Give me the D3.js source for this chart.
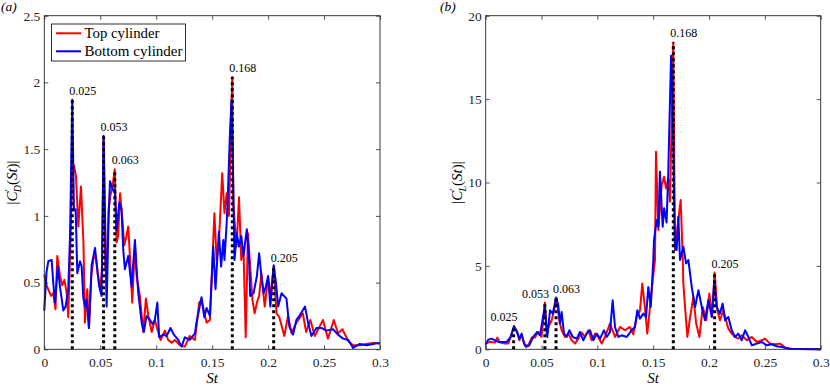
<!DOCTYPE html>
<html><head><meta charset="utf-8">
<script src="https://cdn.jsdelivr.net/npm/d3@7"></script>
<style>
html,body{margin:0;padding:0;background:#fff;}
svg{display:block;}
svg text{font-family:"Liberation Serif","DejaVu Serif","Times New Roman",serif !important;}
</style></head>
<body>
<svg id="chart" width="830" height="387"></svg>
<script>
// ---------------- data ----------------
const stTicks = [0, 0.05, 0.1, 0.15, 0.2, 0.25, 0.3];
const stTickLabels = ["0", "0.05", "0.1", "0.15", "0.2", "0.25", "0.3"];
const yTicksA = [0, 0.5, 1, 1.5, 2, 2.5];
const yTickLabelsA = ["0", "0.5", "1", "1.5", "2", "2.5"];
const yTicksB = [0, 5, 10, 15, 20];
const yTickLabelsB = ["0", "5", "10", "15", "20"];
const seriesNames = ["Top cylinder", "Bottom cylinder"];
const seriesColors = ["#ff0000", "#0000ff"];
const peakSt = [0.025, 0.053, 0.063, 0.168, 0.205];
const peakLabels = ["0.025", "0.053", "0.063", "0.168", "0.205"];
const peakA = [1.87, 1.60, 1.35, 2.04, 0.62];
const peakB = [1.4, 2.8, 3.1, 18.4, 4.6];
const peakAnchorA = ["start", "start", "start", "start", "start"];
const peakAnchorB = ["end", "end", "start", "start", "start"];

// panel (a): |C'_D(St)|  [St, value]
const topA = [[0,0.56],[0.002,0.48],[0.004,0.44],[0.006,0.40],[0.008,0.42],[0.010,0.30],[0.0116,0.70],[0.014,0.55],[0.016,0.48],[0.018,0.52],[0.020,0.42],[0.0214,0.24],[0.0235,0.85],[0.025,1.30],[0.0265,1.38],[0.0283,1.30],[0.0304,0.92],[0.0328,1.22],[0.035,0.80],[0.0363,0.20],[0.0384,0.45],[0.0399,0.16],[0.042,0.55],[0.044,0.68],[0.046,0.70],[0.048,0.55],[0.050,0.45],[0.0515,0.60],[0.053,1.58],[0.0545,0.60],[0.056,0.65],[0.0575,1.05],[0.059,1.15],[0.061,1.22],[0.063,1.35],[0.0646,0.80],[0.066,0.85],[0.0677,1.17],[0.0695,1.0],[0.0715,0.78],[0.0735,0.85],[0.075,0.92],[0.0765,0.70],[0.0786,0.35],[0.081,0.78],[0.0825,0.55],[0.0854,0.40],[0.0884,0.13],[0.0908,0.38],[0.093,0.25],[0.096,0.13],[0.0988,0.22],[0.1018,0.13],[0.1039,0.07],[0.1078,0.14],[0.1107,0.07],[0.1138,0.05],[0.1167,0.07],[0.1212,0.03],[0.1256,0.02],[0.130,0.10],[0.1346,0.07],[0.1384,0.35],[0.1405,0.37],[0.145,0.20],[0.148,0.22],[0.152,1.02],[0.154,0.67],[0.156,0.80],[0.159,1.32],[0.161,1.02],[0.163,1.17],[0.165,1.0],[0.168,2.04],[0.169,1.07],[0.1718,0.77],[0.174,1.14],[0.176,0.67],[0.178,0.75],[0.180,0.09],[0.182,0.87],[0.184,0.62],[0.186,0.37],[0.188,0.27],[0.190,0.35],[0.192,0.40],[0.194,0.57],[0.197,0.32],[0.200,0.54],[0.202,0.40],[0.205,0.62],[0.2075,0.27],[0.210,0.24],[0.2145,0.10],[0.2178,0.25],[0.2209,0.12],[0.2253,0.20],[0.231,0.27],[0.234,0.13],[0.2378,0.22],[0.2417,0.10],[0.246,0.17],[0.249,0.22],[0.2535,0.08],[0.2587,0.22],[0.2625,0.12],[0.2664,0.15],[0.2717,0.06],[0.276,0.03],[0.282,0.03],[0.288,0.04],[0.295,0.05],[0.30,0.04]];
const bottomA = [[0,0.29],[0.002,0.58],[0.0036,0.66],[0.0066,0.67],[0.008,0.50],[0.0096,0.35],[0.012,0.62],[0.014,0.47],[0.017,0.29],[0.019,0.32],[0.0214,0.45],[0.023,0.85],[0.025,1.87],[0.0265,1.04],[0.028,1.05],[0.0295,0.57],[0.0319,0.66],[0.0334,0.62],[0.0348,0.39],[0.0363,0.32],[0.0379,0.37],[0.0399,0.16],[0.0423,0.63],[0.0453,0.76],[0.0473,0.60],[0.0491,0.47],[0.0512,0.40],[0.053,1.60],[0.0557,0.32],[0.0575,1.0],[0.0587,1.26],[0.0616,1.19],[0.063,1.20],[0.0646,0.89],[0.067,1.10],[0.069,1.05],[0.0705,0.75],[0.072,0.60],[0.075,0.70],[0.078,0.47],[0.081,0.82],[0.0825,0.60],[0.084,0.42],[0.087,0.20],[0.089,0.13],[0.0914,0.25],[0.0944,0.22],[0.0968,0.19],[0.0988,0.22],[0.101,0.35],[0.1027,0.09],[0.1063,0.11],[0.1093,0.10],[0.1128,0.16],[0.1158,0.11],[0.1197,0.07],[0.1227,0.02],[0.1256,0.09],[0.130,0.07],[0.1346,0.12],[0.136,0.20],[0.1405,0.39],[0.143,0.24],[0.145,0.31],[0.148,0.25],[0.151,0.77],[0.153,0.45],[0.156,0.88],[0.158,0.62],[0.160,0.82],[0.161,0.67],[0.163,0.95],[0.164,1.15],[0.166,1.64],[0.1673,1.87],[0.169,1.15],[0.170,0.67],[0.172,0.87],[0.174,0.77],[0.176,0.85],[0.178,0.70],[0.181,0.90],[0.183,0.67],[0.184,0.40],[0.187,0.42],[0.190,0.55],[0.192,0.72],[0.194,0.55],[0.196,0.42],[0.198,0.47],[0.200,0.55],[0.202,0.32],[0.205,0.63],[0.207,0.50],[0.209,0.32],[0.212,0.42],[0.2164,0.38],[0.219,0.17],[0.2223,0.11],[0.2253,0.22],[0.228,0.25],[0.233,0.32],[0.2357,0.20],[0.2387,0.10],[0.2432,0.16],[0.2477,0.16],[0.252,0.14],[0.258,0.15],[0.2625,0.11],[0.267,0.08],[0.2717,0.07],[0.276,0.01],[0.282,0.04],[0.288,0.03],[0.294,0.04],[0.30,0.05]];

// panel (b): |C'_L(St)|  [St, value]
const topB = [[0,0.34],[0.0038,0.45],[0.0083,0.40],[0.0104,0.70],[0.0128,0.40],[0.0173,0.35],[0.0203,0.35],[0.0233,0.94],[0.0253,1.34],[0.0278,1.14],[0.0301,0.54],[0.0322,0.84],[0.0352,0.24],[0.0382,0.24],[0.0412,0.70],[0.0441,0.70],[0.047,1.04],[0.050,0.74],[0.053,2.8],[0.0546,0.94],[0.0561,1.34],[0.0591,1.74],[0.0612,2.34],[0.0636,3.04],[0.0659,1.74],[0.068,1.14],[0.071,0.74],[0.074,0.94],[0.077,0.54],[0.080,0.34],[0.0829,0.64],[0.086,1.0],[0.0889,0.74],[0.0919,1.14],[0.0949,0.54],[0.0979,0.94],[0.1008,0.74],[0.1039,0.34],[0.1068,0.74],[0.1113,1.54],[0.1158,0.74],[0.1203,1.34],[0.1247,1.14],[0.1292,1.34],[0.1322,0.90],[0.1352,1.94],[0.1382,2.34],[0.1402,3.94],[0.1426,2.5],[0.1447,0.94],[0.1471,2.5],[0.1495,4.1],[0.1516,5.35],[0.1525,11.85],[0.1546,7.15],[0.1576,9.85],[0.1597,10.35],[0.1615,9.65],[0.1635,10.2],[0.165,8.85],[0.168,18.4],[0.1695,5.95],[0.1725,7.75],[0.1746,8.95],[0.1762,6.0],[0.177,3.94],[0.1785,2.54],[0.1806,0.74],[0.1831,1.94],[0.186,3.14],[0.1885,1.54],[0.1914,0.74],[0.1944,2.54],[0.1975,1.74],[0.2003,3.34],[0.2025,1.94],[0.205,4.6],[0.2074,2.34],[0.2098,1.74],[0.2128,2.34],[0.2152,1.74],[0.2173,1.24],[0.2203,0.94],[0.2233,0.74],[0.2262,0.64],[0.2293,0.84],[0.2338,0.54],[0.2383,0.74],[0.2427,0.44],[0.2472,0.54],[0.2501,0.64],[0.2546,0.34],[0.2591,0.30],[0.2636,0.34],[0.2681,0.10],[0.274,0.04],[0.2815,0.02],[0.2904,0.02],[0.30,0.0]];
const bottomB = [[0,0.28],[0.0023,0.58],[0.0053,0.64],[0.0083,0.54],[0.0113,0.44],[0.0143,0.44],[0.0188,0.44],[0.0224,0.74],[0.0253,1.40],[0.0283,0.98],[0.0301,0.64],[0.0322,0.94],[0.0343,0.34],[0.0361,0.14],[0.039,0.24],[0.0426,0.74],[0.0462,1.04],[0.0486,0.84],[0.0516,2.04],[0.053,2.5],[0.0552,0.74],[0.0576,2.34],[0.060,2.14],[0.063,3.1],[0.065,2.64],[0.0665,1.54],[0.068,2.24],[0.0701,0.94],[0.0725,0.74],[0.0749,1.14],[0.0779,0.74],[0.0815,0.64],[0.0844,1.04],[0.0874,0.54],[0.0904,0.94],[0.0934,1.14],[0.0964,0.54],[0.0994,0.94],[0.1024,0.64],[0.1059,1.14],[0.1084,0.74],[0.1113,1.04],[0.1137,2.94],[0.1158,1.34],[0.1188,0.74],[0.1218,0.84],[0.1263,0.74],[0.1307,1.14],[0.1337,1.34],[0.1358,2.34],[0.1382,1.84],[0.1412,2.14],[0.1436,1.94],[0.1456,3.74],[0.1478,2.54],[0.1501,5.35],[0.1507,6.55],[0.1531,7.75],[0.1546,7.35],[0.156,10.65],[0.1585,7.35],[0.1598,8.45],[0.162,7.6],[0.1635,10.65],[0.166,17.6],[0.167,16.0],[0.1695,6.05],[0.171,5.95],[0.1725,7.95],[0.174,5.35],[0.177,6.15],[0.1794,5.15],[0.1815,5.35],[0.1845,3.74],[0.1875,2.54],[0.1905,3.54],[0.1935,2.54],[0.1964,1.74],[0.1994,2.94],[0.2025,1.94],[0.2047,4.0],[0.2068,2.54],[0.2098,2.14],[0.2122,2.74],[0.2143,1.74],[0.2173,1.94],[0.2203,1.14],[0.2233,0.74],[0.2262,0.94],[0.2293,0.54],[0.2323,1.14],[0.2352,0.74],[0.2383,0.24],[0.2427,0.34],[0.2472,0.44],[0.2517,0.24],[0.2561,0.30],[0.2606,0.18],[0.2651,0.14],[0.271,0.04],[0.2785,0.02],[0.2904,0.0],[0.30,0.0]];

// ---------------- drawing ----------------
const svg = d3.select("#chart");
const axisColor = "#262626";
const serifFont = '"Liberation Serif", "DejaVu Serif", serif';

function panel(opt) {
  const {x0, x1, y0, y1, yMax, yTicks, yTickLabels, series, peaks, anchors, tag, ySub, yLabelGap, legend} = opt;
  const x = d3.scaleLinear().domain([0, 0.3]).range([x0, x1]);
  const y = d3.scaleLinear().domain([0, yMax]).range([y1, y0]);
  const g = svg.append("g").attr("font-family", serifFont);

  const fmtX = (d) => stTickLabels[stTicks.indexOf(d)];
  const fmtY = (d) => yTickLabels[yTicks.indexOf(d)];

  const styleAxis = (sel) => {
    sel.attr("font-family", serifFont).attr("font-size", 13.5);
    sel.select(".domain").remove();
    sel.selectAll(".tick line").attr("stroke", axisColor).attr("stroke-width", 0.8);
    sel.selectAll(".tick text").attr("fill", axisColor);
  };

  g.append("g").attr("transform", `translate(0,${y1})`)
    .call(d3.axisBottom(x).tickValues(stTicks).tickFormat(fmtX).tickSizeInner(-4).tickSizeOuter(0).tickPadding(8))
    .call(styleAxis);
  g.append("g").attr("transform", `translate(0,${y0})`)
    .call(d3.axisTop(x).tickValues(stTicks).tickFormat("").tickSizeInner(-4).tickSizeOuter(0))
    .call(styleAxis);
  g.append("g").attr("transform", `translate(${x0},0)`)
    .call(d3.axisLeft(y).tickValues(yTicks).tickFormat(fmtY).tickSizeInner(-4).tickSizeOuter(0).tickPadding(4))
    .call(styleAxis);
  g.append("g").attr("transform", `translate(${x1},0)`)
    .call(d3.axisRight(y).tickValues(yTicks).tickFormat("").tickSizeInner(-4).tickSizeOuter(0))
    .call(styleAxis);

  // series
  const line = d3.line().x(d => x(d[0])).y(d => y(d[1]));
  series.forEach((s, i) => {
    g.append("path").datum(s).attr("d", line)
      .attr("fill", "none").attr("stroke", seriesColors[i])
      .attr("stroke-width", 2).attr("stroke-linejoin", "round");
  });

  // dotted peak markers
  peakSt.forEach((st, i) => {
    g.append("line")
      .attr("x1", x(st)).attr("x2", x(st))
      .attr("y1", y(0)).attr("y2", y(peaks[i]))
      .attr("stroke", "#000").attr("stroke-width", 3)
      .attr("stroke-dasharray", "3,3");
    const a = anchors[i];
    g.append("text")
      .attr("x", x(st) + (a === "start" ? -3 : 4))
      .attr("y", y(peaks[i]) - 5)
      .attr("text-anchor", a)
      .attr("font-size", 12).attr("fill", "#000")
      .text(peakLabels[i]);
  });

  // box
  g.append("rect").attr("x", x0).attr("y", y0).attr("width", x1 - x0).attr("height", y1 - y0)
    .attr("fill", "none").attr("stroke", axisColor).attr("stroke-width", 0.9);

  // x label
  g.append("text").attr("x", (x0 + x1) / 2).attr("y", y1 + 34)
    .attr("text-anchor", "middle").attr("font-size", 15).attr("font-style", "italic")
    .text("St");

  // y label
  const yl = g.append("text")
    .attr("transform", `translate(${x0 - yLabelGap},${(y0 + y1) / 2}) rotate(-90)`)
    .attr("text-anchor", "middle").attr("font-size", 15);
  yl.append("tspan").text("|");
  yl.append("tspan").attr("font-style", "italic").text("C");
  yl.append("tspan").attr("dy", -5).attr("font-size", 10).text("′");
  yl.append("tspan").attr("dy", 9).attr("dx", -3).attr("font-size", 10).attr("font-style", "italic").text(ySub);
  yl.append("tspan").attr("dy", -4).text("(");
  yl.append("tspan").attr("font-style", "italic").text("St");
  yl.append("tspan").text(")|");

  // panel tag
  svg.append("text").attr("x", tag.x).attr("y", 11).attr("font-family", serifFont)
    .attr("font-size", 13.5).attr("font-style", "italic").text(tag.t);

  if (legend) {
    const lg = g.append("g");
    lg.append("rect").attr("x", 51.5).attr("y", 24).attr("width", 134).attr("height", 37)
      .attr("fill", "#fff").attr("stroke", "#000").attr("stroke-width", 0.8);
    seriesNames.forEach((n, i) => {
      const yy = 33.3 + i * 18;
      lg.append("line").attr("x1", 56).attr("x2", 81).attr("y1", yy).attr("y2", yy)
        .attr("stroke", seriesColors[i]).attr("stroke-width", 2);
      lg.append("text").attr("x", 84.5).attr("y", yy + 4.5)
        .attr("font-size", 14)
        .attr("textLength", i === 0 ? 75 : 98).attr("lengthAdjust", "spacingAndGlyphs")
        .text(n);
    });
  }
}

panel({x0: 44.3, x1: 380, y0: 15.7, y1: 349.3, yMax: 2.5, yTicks: yTicksA, yTickLabels: yTickLabelsA,
  series: [topA, bottomA], peaks: peakA, anchors: peakAnchorA, tag: {x: 1, t: "(a)"}, ySub: "D", yLabelGap: 27, legend: true});
panel({x0: 485.7, x1: 820.7, y0: 15.7, y1: 349.3, yMax: 20, yTicks: yTicksB, yTickLabels: yTickLabelsB,
  series: [topB, bottomB], peaks: peakB, anchors: peakAnchorB, tag: {x: 440, t: "(b)"}, ySub: "L", yLabelGap: 24, legend: false});
</script>
</body></html>
